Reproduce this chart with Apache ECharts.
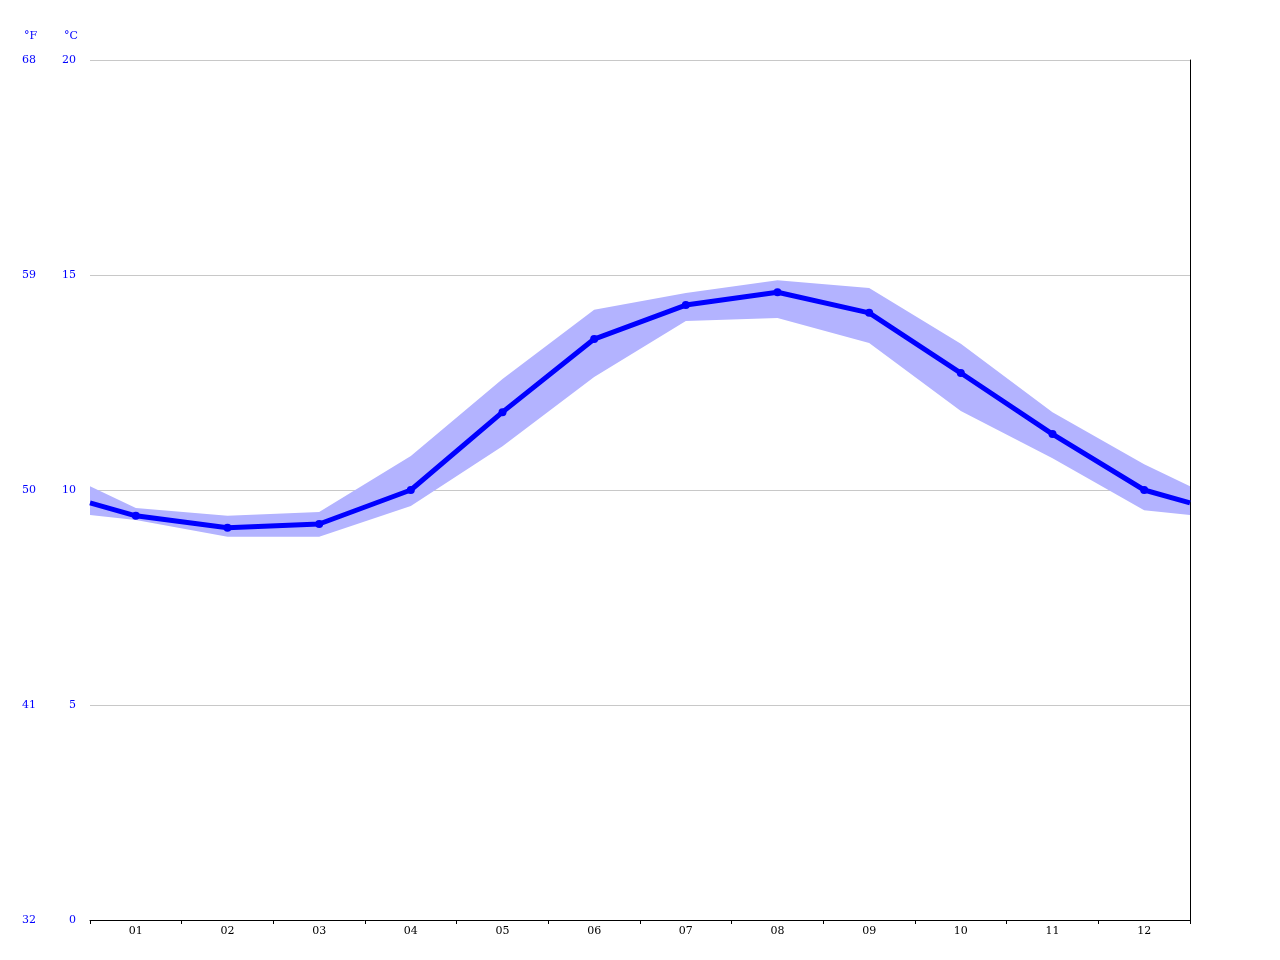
<html><head><script src="https://cdn.jsdelivr.net/npm/echarts@6/dist/echarts.min.js"></script></head><body style="margin:0"><div id="c" style="width:1280px;height:960px"></div><script>
const months=['01','02','03','04','05','06','07','08','09','10','11','12'];
const xPos=[0,0.5,1.5,2.5,3.5,4.5,5.5,6.5,7.5,8.5,9.5,10.5,11.5,12];
const meanT=[9.70,9.40,9.12,9.21,10.0,11.81,13.51,14.30,14.60,14.12,12.72,11.30,10.0,9.70];
const upperT=[10.09,9.58,9.40,9.49,10.79,12.58,14.19,14.58,14.88,14.70,13.40,11.81,10.60,10.09];
const lowerT=[9.42,9.30,8.91,8.91,9.63,11.02,12.63,13.93,14.0,13.42,11.84,10.74,9.53,9.42];
const cTicks=[0,5,10,15,20];
const fTicks=[32,41,50,59,68];
const font={fontFamily:'DejaVu Serif',fontSize:11};
const chart=echarts.init(document.getElementById('c'));
chart.setOption({animation:false,
grid:{left:90,right:90,top:60,bottom:40},
xAxis:[{type:'value',min:0,max:12,interval:1,axisLine:{lineStyle:{color:'#000'}},axisTick:{length:4,lineStyle:{color:'#000'}},axisLabel:{show:false},splitLine:{show:false}},
{type:'category',data:months,position:'bottom',boundaryGap:true,axisLine:{show:false},axisTick:{show:false},axisLabel:Object.assign({color:'#000',margin:6},font)}],
yAxis:[{type:'value',min:0,max:20,interval:5,name:'°C',nameLocation:'end',nameGap:18,nameTextStyle:Object.assign({color:'#0000ff',align:'left',padding:[0,0,0,-26]},font),axisLine:{show:false},axisTick:{show:false},axisLabel:Object.assign({color:'#0000ff',margin:14,align:'right',formatter:v=>v},font),splitLine:{lineStyle:{color:'#c8c8c8'}}},
{type:'value',min:32,max:68,interval:9,position:'left',offset:0,name:'°F',nameGap:18,nameTextStyle:Object.assign({color:'#0000ff',align:'left',padding:[0,0,0,-66]},font),axisLine:{show:false},axisTick:{show:false},axisLabel:Object.assign({color:'#0000ff',margin:54,align:'right'},font),splitLine:{show:false}},
{type:'value',min:0,max:20,position:'right',axisLine:{show:true,lineStyle:{color:'#000'}},axisTick:{show:false},axisLabel:{show:false},splitLine:{show:false}}],
series:[
{type:'custom',xAxisIndex:0,yAxisIndex:0,data:[0],z:1,renderItem:(p,api)=>{
 const pts=[];for(let i=0;i<xPos.length;i++)pts.push(api.coord([xPos[i],upperT[i]]));
 for(let i=xPos.length-1;i>=0;i--)pts.push(api.coord([xPos[i],lowerT[i]]));
 return {type:'polygon',shape:{points:pts},style:{fill:'#b3b3ff'}};}},
{type:'line',xAxisIndex:0,yAxisIndex:0,z:3,data:xPos.map((x,i)=>({value:[x,meanT[i]],symbol:(i==0||i==xPos.length-1)?'none':'circle'})),symbolSize:8,lineStyle:{width:5,color:'#0000ff'},itemStyle:{color:'#0000ff'}}
]});
</script></body></html>
